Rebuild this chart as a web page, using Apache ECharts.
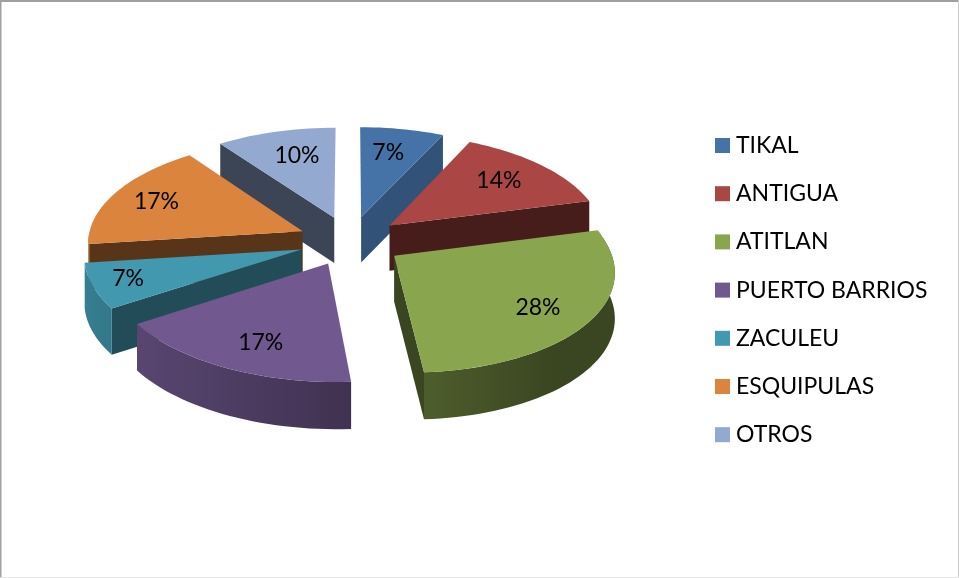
<!DOCTYPE html>
<html><head><meta charset="utf-8">
<style>html,body{margin:0;padding:0;background:#fff}#c{width:959px;height:578px}</style>
<script src="https://cdn.jsdelivr.net/npm/echarts@6/dist/echarts.min.js"></script>
</head><body><div id="c"></div>
<script>
const categories = ['TIKAL','ANTIGUA','ATITLAN','PUERTO BARRIOS','ZACULEU','ESQUIPULAS','OTROS'];
const percentages = [7,14,28,17,7,17,10];
const colors = ['#4572a7','#aa4643','#89a54e','#71588f','#4198af','#db843d','#93a9cf'];
const faceShade = [.72,.42,.42,.42,.5,.4,.41];
const labelRadial = [.77,.76,.74,.72,.82,.80,.75];
const labelTurn = [-2,-4,-1,-1.5,4,3,3];

// projection of the tilted pie
const CX=350, CY=241, R=215, TILT=.478, PERSP=.094, EXPLODE=52, DEPTH=45.5, SHEAR=.048;
const total = percentages.reduce((a,b)=>a+b,0);
const rad = d=>d*Math.PI/180;
const starts = []; { let acc=0; percentages.forEach(v=>{starts.push(acc/total*360); acc+=v;}); }

function project(theta, r, mid){
  const X = r*Math.sin(rad(theta)) + EXPLODE*Math.sin(rad(mid));
  const Y = -r*Math.cos(rad(theta)) - EXPLODE*Math.cos(rad(mid));
  const s = 1/(1-PERSP*Y/R);
  return {x: CX+X*s+SHEAR*Math.max(Y,0), y: CY+TILT*Y*s, s};
}
const lower = p => [p.x, p.y+DEPTH*Math.pow(p.s,.3)];
const upper = p => [p.x, p.y];
function shade(hex,f){
  const n=parseInt(hex.slice(1),16);
  return 'rgb('+[(n>>16)&255,(n>>8)&255,n&255].map(c=>Math.round(c*f)).join(',')+')';
}
const rimShade = t => Math.max(.42, .58-.25*Math.sin(rad(t)));
function arc(t0,t1,mid){
  const out=[], n=Math.max(2,Math.ceil((t1-t0)/2));
  for(let i=0;i<=n;i++) out.push(project(t0+(t1-t0)*i/n,R,mid));
  return out;
}
function makeRender(i){
  return function(params, api){
    const a0 = starts[i], a1 = a0 + api.value(0)/total*360, mid=(a0+a1)/2;
    const apex = project(0,0,mid), color=colors[i], kids=[];
    const poly=(pts,fill)=>kids.push({type:'polygon',shape:{points:pts},style:{fill}});
    if (Math.sin(rad(a0))<0){
      const e=project(a0,R,mid);
      poly([upper(apex),upper(e),lower(e),lower(apex)],shade(color,faceShade[i]));
    }
    if (Math.sin(rad(a1))>0){
      const e=project(a1,R,mid);
      poly([upper(apex),upper(e),lower(e),lower(apex)],shade(color,faceShade[i]));
    }
    const t0=Math.max(a0,80), t1=Math.min(a1,270);
    if (t1>t0){
      const a=arc(t0,t1,mid), xs=a.map(p=>p.x), lo=Math.min(...xs), hi=Math.max(...xs);
      const stops=[]; a.forEach((p,k)=>{ if(k%3==0) stops.push({offset:(p.x-lo)/(hi-lo),color:shade(color,rimShade(t0+(t1-t0)*k/(a.length-1)))}); });
      stops.sort((p,q)=>p.offset-q.offset);
      poly(a.map(upper).concat(a.slice().reverse().map(lower)),
        {type:'linear',x:0,y:0,x2:1,y2:0,colorStops:stops});
    }
    poly([upper(apex)].concat(arc(a0,a1,mid).map(upper)),color);
    const l=project(mid+labelTurn[i],R*labelRadial[i],mid);
    kids.push({type:'text',style:{x:l.x,y:l.y+5,text:api.value(0)+'%',align:'center',verticalAlign:'middle',
      fill:'#000',font:'23px Lato'}});
    return {type:'group',children:kids};
  };
}
const midCos = percentages.map((v,i)=>Math.cos(rad(starts[i]+v/total*180)));
const rank = midCos.map(c=>midCos.filter(o=>o>c).length);

const chart = echarts.init(document.getElementById('c'),null,{renderer:'canvas'});
chart.setOption({
  animation:false,
  backgroundColor:'#fff',
  legend:{
    data:categories, orient:'vertical', left:715, top:134, icon:'rect', padding:0,
    itemWidth:15, itemHeight:15, itemGap:25.2,
    textStyle:{fontFamily:'Lato',fontSize:23,color:'#000',lineHeight:23,padding:[0,0,0,1]},
    selectedMode:false
  },
  graphic:[
    {type:'rect',shape:{x:0,y:0,width:959,height:2},style:{fill:'#a0a0a0'}},
    {type:'rect',shape:{x:0,y:0,width:1.5,height:578},style:{fill:'#a0a0a0'}},
    {type:'rect',shape:{x:958,y:0,width:1,height:578},style:{fill:'#cccccc'}},
    {type:'rect',shape:{x:0,y:577,width:959,height:1},style:{fill:'#e4e4e4'}}
  ],
  series: categories.map((name,i)=>({
    type:'custom', name, coordinateSystem:'none', z:2+rank[i], silent:true,
    itemStyle:{color:colors[i]},
    data:[[percentages[i]]],
    renderItem:makeRender(i)
  }))
});
</script></body></html>
